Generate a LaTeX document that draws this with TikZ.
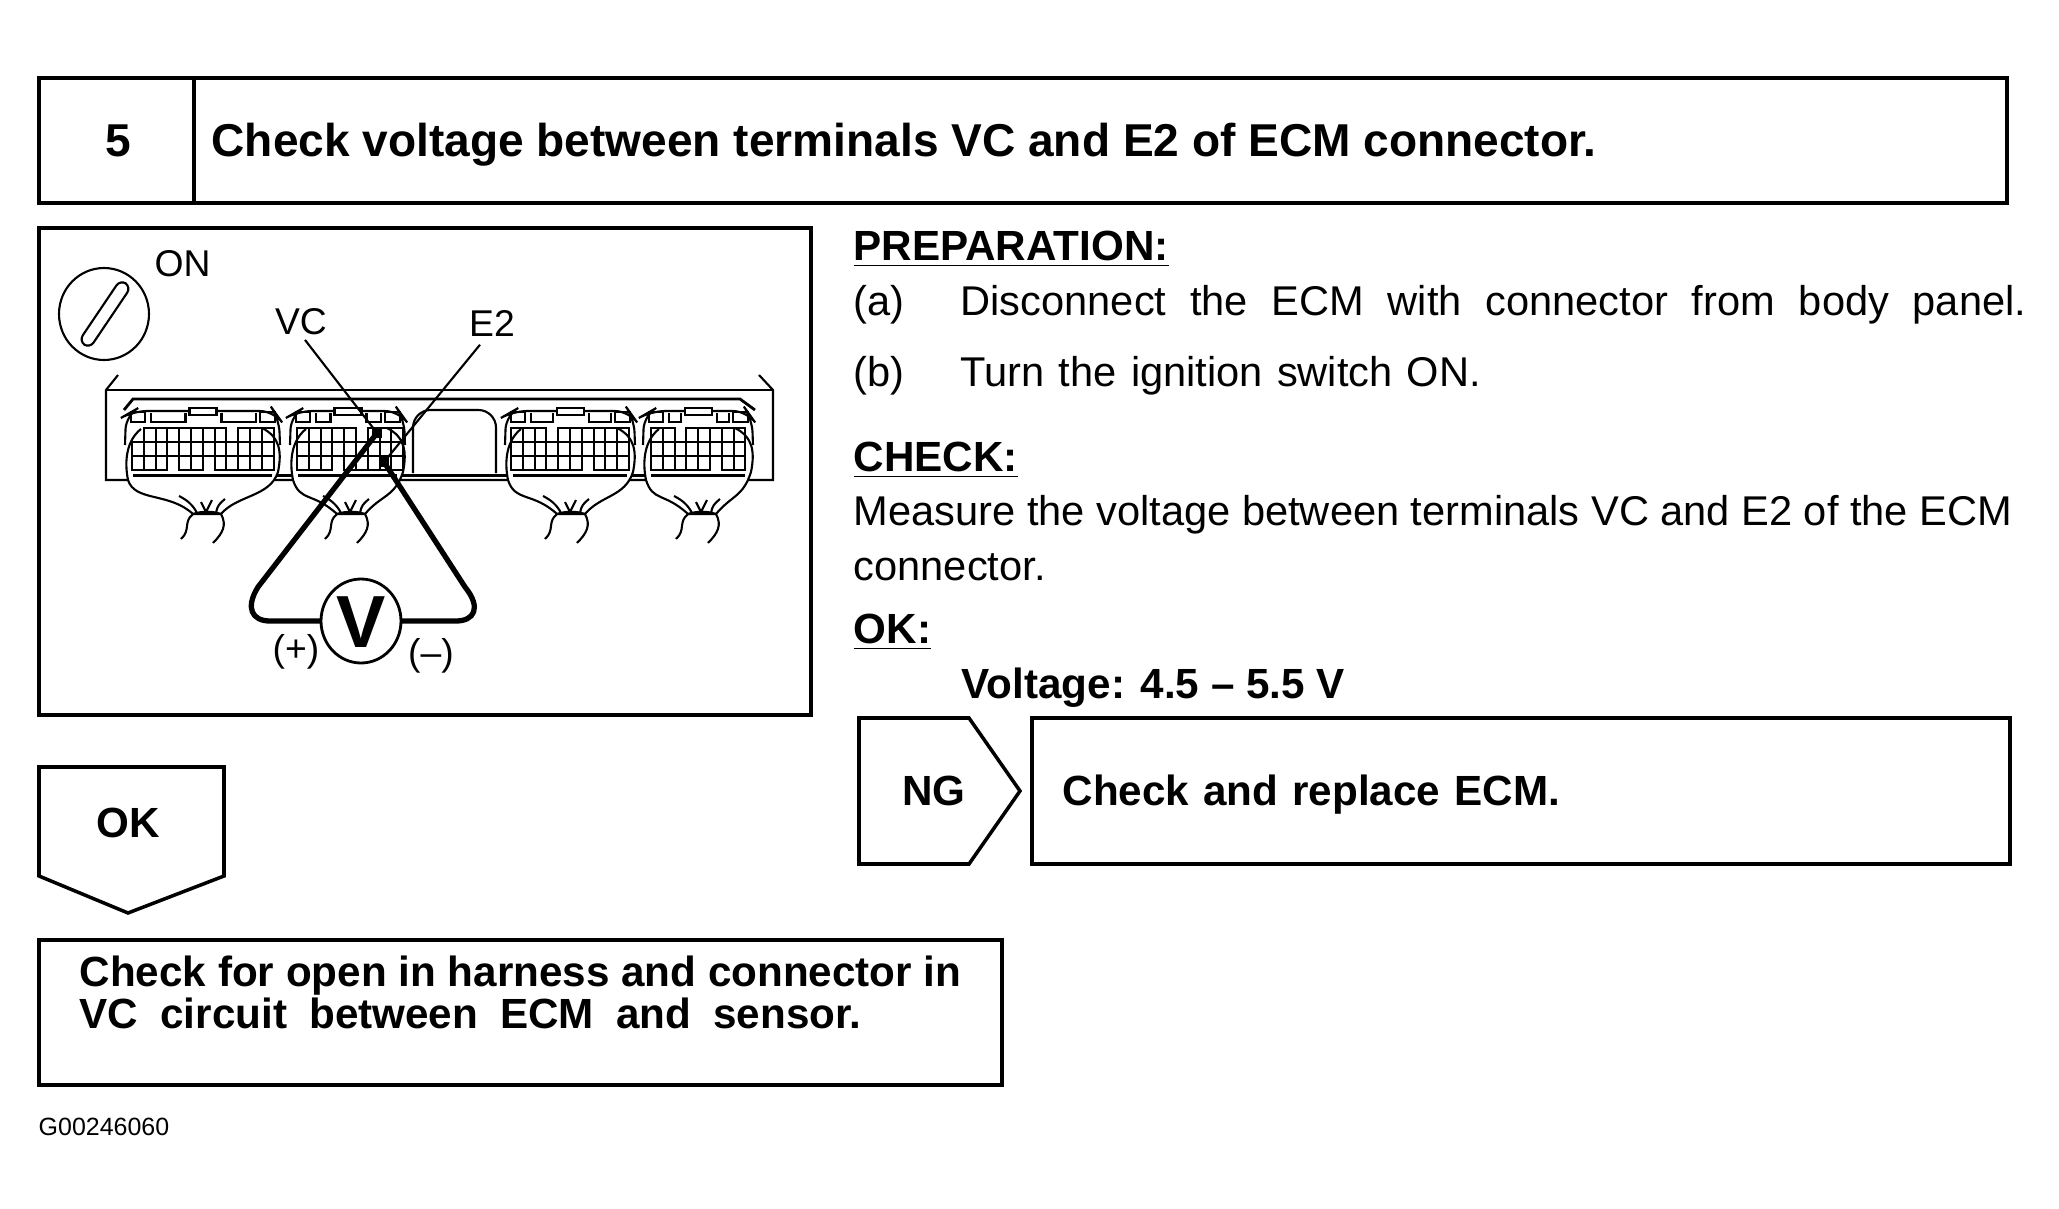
\documentclass[tikz,border=0pt]{standalone}
\usepackage{fontspec}
\setmainfont{Liberation Sans}
\tikzset{
  framebox/.style={line width=1pt,line join=miter},
  headtext/.style={anchor=west,inner sep=0pt,font=\fontsize{13.1}{15}\selectfont\bfseries},
  bodytext/.style={anchor=west,inner sep=0pt,font=\fontsize{11.83}{14}\selectfont},
  boldtext/.style={anchor=west,inner sep=0pt,font=\fontsize{12}{14}\selectfont\bfseries},
  tagtext/.style={inner sep=0pt,font=\fontsize{10.6}{13}\selectfont},
  thinline/.style={line width=0.6pt},
  cell/.style={line width=0.6pt},
  probe/.style={line width=1.5pt},
}
\begin{document}
\begin{tikzpicture}[x=0.01cm,y=-0.01cm]
  \useasboundingbox (0,0) rectangle (2059,1209);
  % title bar
  \draw[framebox] (39,78) rectangle (2007,203);
  \draw[framebox] (194,78) -- (194,203);
  \node[headtext,anchor=center] (stepno) at (118,141) {5};
  \node[headtext] (title) at (211,145) {Check voltage between terminals VC and E2 of ECM connector.};
  % picture frame
  \draw[framebox] (39,228) rectangle (811,715);
  \node[tagtext,anchor=west] (on) at (154,264) {ON};
  \node[tagtext] (vc) at (301,322) {VC};
  \node[tagtext] (e2) at (492,323) {E2};
  \draw[thinline] (104,314) ellipse (45 and 46);
  \node[draw,thinline,rounded corners=2pt,minimum width=0.74cm,minimum height=0.13cm,rotate=56,inner sep=0pt] (keyslot) at (105,314) {};
  % ECM panel
  \draw[thinline] (118,375) -- (106,390) -- (106,480) -- (773,480) -- (773,390) -- (759,375);
  \draw[thinline] (106,390) -- (773,390);
  \draw[line width=0.8pt] (124,410) -- (133,399) -- (740,399) -- (755,410);
  \draw[thinline,rounded corners=5pt] (413,473) -- (413,410) -- (496,410) -- (496,473);
  \draw[line width=1.1pt] (130,475.5) -- (750,475.5);
  \foreach \cx/\hw/\tx in {202.5/77.5/207,347.5/57.5/351,570/65/571,698/55/702}{
    \pgfmathsetmacro{\lx}{\cx-\hw}
    \pgfmathsetmacro{\rx}{\cx+\hw}
    % boot
    \draw[thinline,fill=white] (\lx+16,429) .. controls (\lx+2,440) and (\lx-1,460) .. (\lx+3,480)
      .. controls (\lx+10,502) and (\tx-38,492) .. (\tx-14,514)
      -- (\tx+14,514) .. controls (\tx+30,495) and (\rx-10,497) .. (\rx-2,472)
      .. controls (\rx+2,452) and (\rx,437) .. (\rx-18,428);
    % housing
    \draw[thinline,rounded corners=4pt] (\lx,445) -- (\lx+1,415) -- (\lx+8,411) -- (\rx-6,411) -- (\rx-1,418) -- (\rx,445);
    \draw[thinline] (\lx+6,412) rectangle (\lx+20,422);
    \draw[thinline] (\lx+26,413) -- (\lx+26,422) -- (\cx-17,422) -- (\cx-17,413);
    \draw[thinline,fill=white] (\cx-13,408) rectangle (\cx+14,415);
    \draw[thinline] (\cx+19,413) -- (\cx+19,422) -- (\rx-24,422) -- (\rx-24,413);
    \draw[thinline] (\rx-20,412) rectangle (\rx-5,422);
    \draw[line width=1.1pt] (\lx+8,475.5) -- (\rx-8,475.5);
    % tail and wires
    \draw[thinline] (\tx-14,514) .. controls (\tx-5,511) and (\tx+5,511) .. (\tx+14,514);
    \draw[thinline] (\tx-14,514) .. controls (\tx-24,522) and (\tx-16,530) .. (\tx-26,539);
    \draw[thinline] (\tx+14,514) .. controls (\tx+20,525) and (\tx+16,533) .. (\tx+6,543);
    \draw[thinline] (\tx-10,513) .. controls (\tx-14,505) and (\tx-20,500) .. (\tx-28,496);
    \draw[thinline] (\tx-1,512) -- (\tx-6,502);
    \draw[thinline] (\tx-1,512) -- (\tx+5,500);
    \draw[thinline] (\tx+9,513) .. controls (\tx+10,506) and (\tx+13,503) .. (\tx+18,499);
  }
  % terminals
  \foreach \gx/\toprow/\midrow/\botrow in {
      132/{2,...,8,10,11,12}/{1,...,12}/{1,2,3,5,6,8,9,10,11,12},
      297/{1,2,3,4,5,7,8,9}/{1,...,9}/{1,2,3,5,6,7,8,9},
      511/{1,2,3,5,6,7,8,9,10}/{1,...,10}/{1,2,3,4,5,6,8,9,10},
      651/{1,2,4,5,6,7,8}/{1,...,8}/{1,2,3,4,5,7,8}}{
    \foreach \c in \toprow { \draw[cell] ({\gx+(\c-1)*11.8},428) rectangle +(11.8,14); }
    \foreach \c in \midrow { \draw[cell] ({\gx+(\c-1)*11.8},442) rectangle +(11.8,14); }
    \foreach \c in \botrow { \draw[cell] ({\gx+(\c-1)*11.8},456) rectangle +(11.8,14); }
  }
  \coordinate (pinvc) at (377,433);
  \coordinate (pine2) at (384,462);
  \fill (pinvc) ++(-5,-5) rectangle +(10,10);
  \fill (pine2) ++(-5,-5) rectangle +(10,10);
  \draw[thinline] (vc.south) ++(4,4) -- (pinvc);
  \draw[thinline] (e2.south) ++(-12,8) -- (pine2);
  % voltmeter
  \draw[line width=0.8pt,fill=white] (361,621) ellipse (40 and 42);
  \node[inner sep=0pt,font=\fontsize{21}{25}\selectfont\bfseries] (meter) at (361,622) {V};
  \coordinate (meterl) at (321,621);
  \coordinate (meterr) at (401,621);
  \draw[probe] (pinvc) -- (258,587) .. controls (245,608) and (252,621) .. (270,621) -- (meterl);
  \draw[probe] (pine2) -- (465,587) .. controls (482,608) and (474,621) .. (456,621) -- (meterr);
  \node[tagtext] (plus) at (296,652) {(+)};
  \node[tagtext] (minus) at (431,656) {(--)};
  % right column
  \node[boldtext] (prep) at (853,249) {\underline{PREPARATION:}};
  \node[bodytext] (a) at (853,305) {(a)};
  \node[bodytext] (atext) at (960,305) {\makebox[10.65cm][s]{Disconnect the ECM with connector from body panel.}};
  \node[bodytext] (b) at (853,376) {(b)};
  \node[bodytext] (btext) at (960,376) {\makebox[5.2cm][s]{Turn the ignition switch ON.}};
  \node[boldtext] (check) at (853,460) {\underline{CHECK:}};
  \node[bodytext] (meas) at (853,515) {Measure the voltage between terminals VC and E2 of the ECM};
  \node[bodytext] (meas2) at (853,567) {connector.};
  \node[boldtext] (okhead) at (853,632) {\underline{OK:}};
  \node[boldtext] (volt) at (961,688) {Voltage: 4.5 -- 5.5 V};
  % NG branch
  \draw[framebox] (859,718) -- (969,718) -- (1020,791) -- (969,864) -- (859,864) -- cycle;
  \node[boldtext,anchor=center] (ng) at (934,791) {NG};
  \draw[framebox] (1032,718) rectangle (2010,864);
  \node[boldtext] (replace) at (1062,795) {\makebox[4.97cm][s]{Check and replace ECM.}};
  % OK branch
  \draw[framebox] (39,767) -- (224,767) -- (224,876) -- (128,913) -- (39,876) -- cycle;
  \node[boldtext,anchor=center] (ok) at (128,823) {OK};
  \draw[framebox] (39,940) rectangle (1002,1085);
  \node[boldtext] (open1) at (79,976) {Check for open in harness and connector in};
  \node[boldtext] (open2) at (79,1013) {\makebox[7.81cm][s]{VC circuit between ECM and sensor.}};
  \node[inner sep=0pt,anchor=west,font=\fontsize{7.1}{9}\selectfont] (figno) at (38,1127) {G00246060};
\end{tikzpicture}
\end{document}
